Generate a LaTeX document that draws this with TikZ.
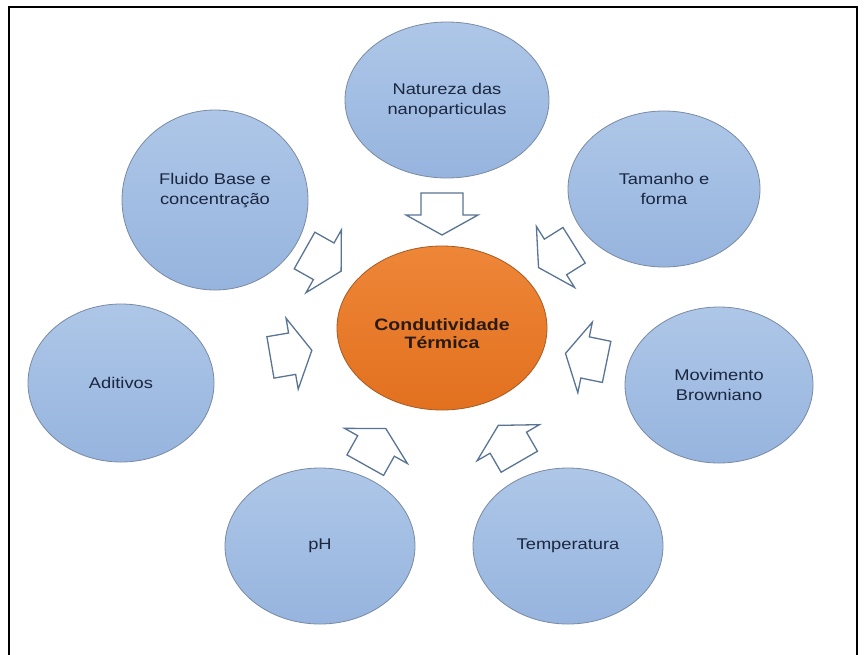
\documentclass[tikz,border=0pt]{standalone}
\usepackage{fontspec}
\setmainfont{Liberation Sans}[FakeStretch=1.18]

\definecolor{factortop}{HTML}{AEC7E8}
\definecolor{factorbottom}{HTML}{96B4DE}
\definecolor{factorline}{HTML}{7A8AA2}
\definecolor{factortext}{HTML}{1B2740}
\definecolor{coretop}{HTML}{EE8638}
\definecolor{corebottom}{HTML}{E2711F}
\definecolor{coreline}{HTML}{A85A24}
\definecolor{coretext}{HTML}{2A1A10}
\definecolor{arrowline}{HTML}{5A7493}

\usetikzlibrary{shapes.geometric}

\tikzset{
  factorfont/.style={align=center, text=factortext,
    font=\fontsize{15.5}{20}\selectfont},
  factor/.style={ellipse, draw=factorline, line width=0.8pt,
    top color=factortop, bottom color=factorbottom,
    inner sep=0pt, factorfont},
  corefont/.style={align=center, text=coretext,
    font=\bfseries\fontsize{16.5}{18}\selectfont},
  core/.style={ellipse, draw=coreline, line width=0.8pt,
    top color=coretop, bottom color=corebottom,
    inner sep=0pt},
  inflow/.pic={
    \draw[arrowline, line width=1.3pt, fill=white, line join=miter]
      (-21,-21) -- (1,-21) -- (1,-36) -- (21,0) -- (1,36) -- (1,21)
      -- (-21,21) -- cycle;
  },
  frame/.style={line width=1.4pt, draw=black}
}

\begin{document}
\begin{tikzpicture}[x=1pt, y=1pt]
  \useasboundingbox (0,-654) rectangle (866,0);
  \fill[white] (0,-654) rectangle (866,0);

  % outer frame (its lower edge lies below the page)
  \begin{scope}
    \clip (0,-654) rectangle (866,0);
    \draw[frame] (9,-7) rectangle (857,-700);
  \end{scope}

  % central property (its caption sits a little below the centre)
  \node[core, minimum width=210, minimum height=164,
        label={[corefont, yshift=-6]center:Condutividade\\Térmica}]
        (core) at (442,-328) {};

  % influencing factors
  \node[factor, minimum width=204, minimum height=156] (nat) at (447,-100)
    {Natureza das\\nanoparticulas};
  \node[factor, minimum width=186, minimum height=180,
        label={[factorfont, yshift=9]center:Fluido Base e\\concentração}]
        (flu) at (215,-200) {};
  \node[factor, minimum width=192, minimum height=156] (tam) at (664,-189)
    {Tamanho e\\forma};
  \node[factor, minimum width=188, minimum height=156] (mov) at (719,-385)
    {Movimento\\Browniano};
  \node[factor, minimum width=186, minimum height=158] (adi) at (121,-383)
    {Aditivos};
  \node[factor, minimum width=190, minimum height=156] (ph) at (320,-546)
    {pH};
  \node[factor, minimum width=190, minimum height=156] (tem) at (568,-546)
    {Temperatura};

  % hollow block arrows pointing at the central property
  \path (core.center |- nat.center) -- (core.center) pic[pos=0.50, sloped, allow upside down] {inflow};
  \path (flu.center) -- (core.center) pic[pos=0.475, sloped, allow upside down] {inflow};
  \path (tam.center) -- (core.center) pic[pos=0.485, sloped, allow upside down] {inflow};
  \path (adi.center) -- (core.center) pic[pos=0.53, sloped, allow upside down] {inflow};
  \path (mov.center) -- (core.center) pic[pos=0.48, sloped, allow upside down] {inflow};
  \path (ph.center)  -- (core.center) pic[pos=0.455, sloped, allow upside down] {inflow};
  \path (tem.center) -- (core.center) pic[pos=0.47, sloped, allow upside down] {inflow};
\end{tikzpicture}
\end{document}
